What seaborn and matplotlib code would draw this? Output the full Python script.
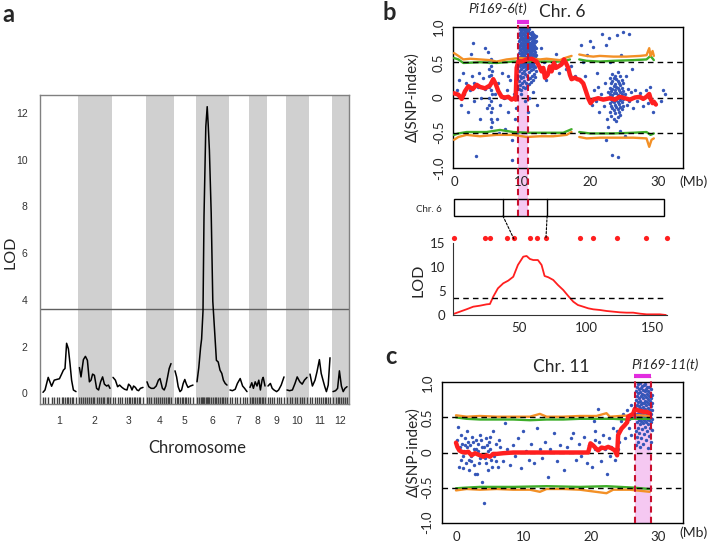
import numpy as np
import pandas as pd
import matplotlib
matplotlib.use("Agg")
import matplotlib.pyplot as plt
import seaborn as sns
from matplotlib.patches import Rectangle, ConnectionPatch
from matplotlib.transforms import blended_transform_factory

# ================= data =================
# --- panel a: genome-wide LOD scan, positions in cM inside each chromosome ---
chr_names = [str(i) for i in range(1, 13)]
chr_len = [165, 155, 155, 125, 95, 150, 85, 75, 80, 100, 100, 70]
chr_pos = [
    [0, 10, 26, 43, 56, 68, 82, 93, 102, 110, 118, 127, 135, 143, 152, 165],
    [2, 10, 22, 32, 42, 52, 60, 68, 77, 88, 98, 108, 118, 127, 138, 147, 155],
    [0, 12, 23, 33, 45, 58, 70, 78, 87, 95, 103, 112, 120, 128, 137, 150],
    [0, 9, 21, 34, 46, 57, 65, 77, 86, 94, 103, 111, 120],
    [0, 8, 16, 25, 33, 41, 49, 57, 65, 77, 90],
    [0, 9, 18, 23, 30, 35, 44, 51, 56, 62, 71, 79, 88, 97, 106, 115, 124, 132, 141, 150],
    [0, 12, 26, 37, 51, 63, 73, 85],
    [0, 9, 17, 26, 35, 44, 52, 61, 66, 75],
    [0, 12, 21, 30, 43, 53, 66, 80],
    [0, 13, 27, 40, 51, 64, 76, 87, 100],
    [0, 12, 25, 35, 47, 56, 65, 74, 82, 91, 100],
    [0, 13, 23, 32, 42, 51, 60, 70],
]
chr_lod = [
    [0.04, 0.14, 0.68, 0.30, 0.56, 0.59, 0.62, 0.82, 0.99, 1.06, 2.14, 1.90, 1.27, 0.56, 0.14, 0.07],
    [1.10, 0.70, 1.44, 1.58, 1.41, 0.49, 0.56, 0.82, 0.77, 0.21, 0.14, 0.49, 0.70, 0.39, 0.31, 0.35, 0.21],
    [0.68, 0.56, 0.28, 0.35, 0.25, 0.17, 0.14, 0.39, 0.31, 0.14, 0.31, 0.25, 0.14, 0.11, 0.21, 0.25],
    [0.49, 0.28, 0.21, 0.21, 0.31, 0.56, 0.63, 0.21, 0.14, 0.31, 0.70, 1.06, 1.27],
    [0.96, 0.70, 0.28, 0.07, 0.14, 0.42, 0.59, 0.39, 0.25, 0.31, 0.35],
    [0.49, 1.10, 1.97, 2.32, 3.52, 7.56, 11.41, 12.27, 11.50, 10.40, 7.70, 3.94, 2.68, 1.41, 1.34, 0.99, 0.85, 0.56, 0.42, 0.35],
    [0.14, 0.11, 0.17, 0.42, 0.63, 0.31, 0.21, 0.07],
    [0.25, 0.45, 0.21, 0.49, 0.31, 0.56, 0.14, 0.59, 0.68, 0.31],
    [0.31, 0.42, 0.21, 0.14, 0.07, 0.14, 0.35, 0.70],
    [0.14, 0.11, 0.14, 0.42, 0.70, 0.49, 0.39, 0.56, 0.68],
    [0.82, 0.31, 0.56, 0.92, 1.44, 0.85, 0.56, 0.28, 0.07, 0.35, 1.52],
    [0.07, 0.11, 0.21, 0.96, 0.31, 0.07, 0.21, 0.28],
]
lod_threshold_a = 3.6

# --- panel b: chr 6 delta SNP-index (Mb) ---
b_red_x = [0, 0.64, 1.13, 1.62, 2.11, 2.75, 3.33, 3.82, 4.56, 5.29, 5.78, 6.18, 6.52, 7.01, 7.5, 7.99,
           8.48, 8.87, 9.07, 9.22, 9.46, 9.95, 10.69, 11.42, 12.16, 12.55, 12.89, 13.14, 13.38, 13.77,
           14.12, 14.36, 14.71, 15.0, 15.34, 15.83, 16.18, 16.47, 16.81, 17.06, 17.3, 17.79, 18.14,
           18.53, 19.02, 19.41, 19.75, 20.1, 20.49, 21.23, 21.96, 22.94, 23.68, 24.41, 25.15, 25.88,
           26.62, 27.35, 27.84, 28.33, 28.73, 28.97, 29.22, 29.41, 29.71]
b_red_y = [0.06, 0.04, -0.02, 0.09, 0.16, 0.12, 0.18, 0.15, 0.13, 0.17, 0.26, 0.18, 0.09, 0.01, 0.0, 0.01,
           -0.03, -0.01, -0.03, 0.42, 0.51, 0.51, 0.54, 0.55, 0.51, 0.44, 0.37, 0.42, 0.28, 0.32,
           0.44, 0.37, 0.49, 0.42, 0.44, 0.47, 0.54, 0.49, 0.42, 0.32, 0.26, 0.28, 0.26,
           0.25, 0.2, 0.09, -0.01, -0.08, -0.03, -0.01, -0.03, -0.01, -0.03, 0.01, -0.01, -0.03,
           0.0, 0.01, -0.02, 0.01, 0.05, -0.03, -0.08, -0.06, -0.1]
b_orange_up_x = [0, 0.64, 1.37, 2.35, 3.82, 5.29, 6.27, 7.75, 8.73, 9.71, 10.69, 11.67, 12.65, 13.63, 14.61,
                 15.59, 16.32, 17.3, None, 18.43, 19.51, 20.49, 21.47, 23.43, 25.39, 27.35, 28.33, 28.73,
                 28.92, 29.22, 29.41]
b_orange_up_y = [0.63, 0.59, 0.54, 0.55, 0.54, 0.53, 0.51, 0.54, 0.55, 0.56, 0.55, 0.55, 0.54, 0.55, 0.54,
                 0.53, 0.56, 0.59, None, 0.61, 0.59, 0.58, 0.59, 0.58, 0.58, 0.59, 0.6, 0.7,
                 0.59, 0.66, 0.59]
b_green_up_x = [0, 0.64, 1.37, 3.82, 6.27, 8.73, 11.18, 13.63, 16.08, 17.06, None, 18.43, 19.51, 21.47,
                23.43, 26.37, 28.33, 28.92, 29.41]
b_green_up_y = [0.56, 0.54, 0.49, 0.5, 0.49, 0.51, 0.51, 0.51, 0.51, 0.54, None, 0.54, 0.52, 0.51,
                0.52, 0.53, 0.54, 0.59, 0.53]
b_orange_lo_x = [0, 0.64, 1.86, 3.82, 6.27, 8.73, 10.69, 12.65, 14.61, 16.57, 17.3, None, 18.43, 19.51,
                 21.47, 23.43, 26.37, 28.33, 28.73, 29.07, 29.41]
b_orange_lo_y = [-0.6, -0.56, -0.53, -0.55, -0.53, -0.53, -0.56, -0.55, -0.55, -0.53, -0.49, None, -0.56,
                 -0.58, -0.57, -0.57, -0.57, -0.58, -0.7, -0.6, -0.58]
b_green_lo_x = [0, 0.64, 1.86, 4.8, 6.76, 8.73, 11.18, 13.63, 16.08, 17.3, None, 18.43, 20.0, 23.43,
                26.37, 28.33, 28.92, 29.41]
b_green_lo_y = [-0.53, -0.51, -0.49, -0.49, -0.46, -0.49, -0.5, -0.5, -0.5, -0.45, None, -0.49, -0.51,
                -0.51, -0.5, -0.49, -0.53, -0.51]

# SNPs outside the dense columns (Mb, delta)
b_snp_scattered = [
    (0.5, 0.1), (0.8, 0.25), (1.0, -0.1), (1.3, 0.35), (1.5, 0.05), (1.8, 0.2), (2.0, -0.2), (2.3, 0.1),
    (2.5, 0.62), (2.8, 0.78), (2.6, 0.3), (2.9, -0.05), (3.0, 0.2), (3.3, -0.83), (3.5, 0.15), (3.7, 0.35),
    (3.8, -0.3), (4.0, 0.0), (4.2, 0.28), (4.5, 0.7), (4.6, 0.12), (4.8, -0.15), (5.0, 0.65),
    (6.0, 0.05), (6.3, -0.3), (6.5, 0.2), (6.6, -0.5), (6.8, -0.1), (7.0, 0.35), (7.3, 0.0), (7.5, -0.45),
    (7.8, 0.1), (7.9, 0.3), (8.0, -0.2), (8.3, 0.25), (8.5, -0.88), (8.6, -0.6), (8.8, 0.05), (9.0, -0.3),
    (9.2, 0.15), (9.1, -0.15), (9.3, -0.5), (9.8, 0.05), (10.4, -0.05), (10.9, -0.2), (11.0, 0.0),
    (11.6, 0.08), (12.2, -0.1), (12.8, 0.7), (13.2, 0.5), (13.5, 0.25), (14.0, 0.45), (15.0, 0.62),
    (15.5, 0.35), (16.0, 0.5), (16.5, 0.4), (17.2, 0.45), (17.8, 0.3), (18.7, 0.75), (19.0, 0.5),
    (19.3, 0.3), (19.6, 0.6), (20.0, 0.8), (20.5, 0.72), (21.8, 0.9), (22.3, 0.75), (22.8, 0.85),
    (24.0, 0.88), (24.8, 0.93), (25.7, 0.9), (30.4, -0.05), (30.8, 0.1), (31.0, 0.05),
    (20.3, -0.1), (20.6, 0.1), (20.9, -0.05), (21.2, 0.15), (21.4, -0.2), (21.7, 0.05), (22.0, -0.12),
    (22.2, 0.2), (22.5, -0.3), (22.7, 0.08), (25.2, 0.05), (25.4, -0.1), (25.6, 0.12), (25.8, -0.05),
    (26.0, 0.08), (26.3, -0.15), (26.6, 0.1), (27.0, -0.05), (27.4, 0.06), (27.8, -0.12), (28.2, 0.1),
    (28.6, -0.08), (28.9, 0.15), (29.3, -0.2), (23.3, -0.82), (24.1, -0.85), (22.4, -0.6), (25.1, -0.55),
    (23.0, 0.5), (24.6, 0.6), (21.0, 0.35), (26.2, 0.4), (25.3, 0.3), (22.6, -0.42), (24.4, -0.48),
]
# dense SNP columns: x position -> delta values
b_col_x = [5.2, 5.4, 5.6,
           9.5, 9.65, 9.8, 9.95, 10.1, 10.25, 10.4, 10.55, 10.7, 10.85, 11.0, 11.15, 11.3, 11.45, 11.6,
           11.75, 11.9, 12.1,
           22.9, 23.1, 23.3, 23.5, 23.7, 23.9, 24.1, 24.3, 24.5, 24.7, 24.9]
b_col_y = [
    [-0.1, 0.0, 0.15, 0.3, 0.4, 0.5],
    [-0.42, -0.3, -0.2, -0.05, 0.1, 0.2, 0.32, 0.45, 0.55],
    [-0.35, -0.15, 0.05, 0.25, 0.38, 0.5],
    [0.12, 0.24, 0.38, 0.47, 0.55, 0.63, 0.71, 0.8, 0.88],
    [0.18, 0.31, 0.44, 0.5, 0.58, 0.67, 0.74, 0.83, 0.91, 0.97],
    [0.1, 0.27, 0.41, 0.48, 0.53, 0.61, 0.69, 0.77, 0.86, 0.94, 0.99],
    [0.21, 0.35, 0.46, 0.52, 0.59, 0.65, 0.73, 0.81, 0.89, 0.96],
    [0.15, 0.29, 0.43, 0.49, 0.56, 0.62, 0.7, 0.78, 0.84, 0.92, 1.0],
    [0.24, 0.38, 0.47, 0.54, 0.6, 0.68, 0.75, 0.82, 0.9, 0.97],
    [0.13, 0.33, 0.45, 0.51, 0.57, 0.64, 0.72, 0.8, 0.87, 0.95],
    [0.2, 0.4, 0.48, 0.55, 0.63, 0.69, 0.77, 0.85, 0.93, 0.98],
    [0.16, 0.3, 0.44, 0.52, 0.58, 0.66, 0.74, 0.81, 0.88, 0.96],
    [0.26, 0.42, 0.5, 0.56, 0.62, 0.7, 0.79, 0.86, 0.94],
    [0.19, 0.36, 0.46, 0.53, 0.6, 0.67, 0.75, 0.83, 0.91, 0.97],
    [0.28, 0.43, 0.49, 0.57, 0.64, 0.71, 0.78, 0.85, 0.92],
    [0.22, 0.39, 0.47, 0.54, 0.61, 0.69, 0.76, 0.84, 0.9],
    [0.31, 0.44, 0.51, 0.58, 0.66, 0.73, 0.8, 0.87, 0.93],
    [0.25, 0.41, 0.48, 0.55, 0.62, 0.7, 0.78, 0.85, 0.9],
    [0.34, 0.45, 0.52, 0.6, 0.67, 0.74, 0.82, 0.88],
    [0.29, 0.43, 0.5, 0.57, 0.64, 0.72, 0.79, 0.86],
    [0.38, 0.5, 0.6, 0.7, 0.8, 0.87],
    [-0.2, -0.08, 0.05, 0.14, 0.27],
    [-0.26, -0.12, -0.02, 0.09, 0.2],
    [-0.15, -0.05, 0.03, 0.12, 0.24, 0.33],
    [-0.3, -0.18, -0.07, 0.06, 0.16, 0.28],
    [-0.22, -0.1, 0.0, 0.1, 0.19, 0.31],
    [-0.33, -0.14, -0.04, 0.07, 0.15, 0.26],
    [-0.27, -0.16, -0.06, 0.04, 0.13, 0.23, 0.36],
    [-0.21, -0.09, 0.02, 0.11, 0.21],
    [-0.25, -0.13, -0.03, 0.08, 0.18, 0.3],
    [-0.17, -0.06, 0.05, 0.14, 0.25],
    [-0.12, -0.02, 0.09, 0.2],
]
b_region = (9.36, 10.93)
b_chr_len_mb = 30.9
b_zoom_mb = [7.2, 13.7]          # bar ticks linked to markers
b_zoom_cm = [46, 70]

# --- panel b (middle): chr 6 interval mapping ---
lod6_cm = [0.5, 5.5, 10.5, 15.5, 20.5, 25.5, 28, 30.5, 34, 38, 41.75, 45.5, 49, 53, 55.5, 58, 60.5, 64,
           66.75, 69, 71.75, 75.5, 79, 83, 86.75, 90.5, 94, 98, 101.75, 105.5, 110.5, 115.5, 120.5,
           125.5, 130.5, 135.5, 140.5, 145.5, 150.5, 155.5, 160]
lod6 = [0.2, 0.7, 1.2, 1.74, 1.95, 2.23, 2.3, 3.84, 5.58, 6.63, 7.19, 8.0, 10.47, 12.2, 12.35, 11.72, 11.5,
        11.5, 10.47, 8.16, 7.9, 7.33, 6.28, 5.23, 3.98, 2.79, 2.09, 1.74, 1.4, 1.19, 1.05, 0.84, 0.7,
        0.56, 0.49, 0.49, 0.28, 0.14, 0.14, 0.14, 0.0]
marker_cm = [1, 24.3, 28, 41, 46, 58, 63.5, 70, 95.5, 105, 123.5, 145, 161]
lod_threshold_b = 3.5

# --- panel c: chr 11 delta SNP-index ---
c_red_x = [0, 0.2, 0.49, 0.84, 1.33, 1.83, 2.32, 2.82, 3.56, 4.05, 4.55, 5.04, 5.53, 6.03, 7.02, 8.5,
           10.97, 13.44, 15.91, 18.38, 19.61, 19.96, 20.36, 20.75, 21.1, 21.59, 22.08, 22.58, 23.07,
           23.57, 23.91, 24.06, 24.56, 25.05, 25.4, 25.54, 25.89, 26.28, 26.53, 27.03, 27.77, 28.26, 28.75]
c_red_y = [0.14, 0.08, 0.03, 0.01, 0.0, 0.01, -0.04, -0.01, -0.04, -0.06, -0.04, -0.06, -0.02, -0.02,
           -0.01, 0.0, 0.0, 0.0, 0.0, 0.0, 0.0, 0.13, 0.1, 0.06, 0.03, 0.07, 0.06, 0.08, 0.06, 0.03,
           -0.04, 0.25, 0.34, 0.39, 0.43, 0.51, 0.53, 0.55, 0.62, 0.6, 0.58, 0.58, 0.56]
c_orange_up_x = [0, 1.58, 3.56, 6.03, 8.5, 10.97, 12.45, 13.44, 15.91, 18.38, 20.85, 22.33, 22.83, 24.31,
                 26.28, 27.27, 28.75]
c_orange_up_y = [0.53, 0.51, 0.52, 0.51, 0.51, 0.51, 0.55, 0.51, 0.51, 0.52, 0.52, 0.56, 0.51, 0.52,
                 0.53, 0.53, 0.52]
c_green_up_x = [0, 1.58, 3.56, 6.03, 8.5, 10.97, 13.44, 15.91, 18.38, 20.85, 23.32, 25.3, 26.28, 28.75]
c_green_up_y = [0.5, 0.48, 0.47, 0.47, 0.47, 0.46, 0.47, 0.47, 0.48, 0.48, 0.48, 0.47, 0.48, 0.48]
c_orange_lo_x = [0, 1.58, 3.56, 6.03, 8.5, 10.97, 12.45, 13.44, 15.91, 18.38, 22.33, 23.32, 25.79, 26.78,
                 28.75]
c_orange_lo_y = [-0.54, -0.52, -0.53, -0.52, -0.53, -0.53, -0.56, -0.52, -0.52, -0.53, -0.58, -0.53,
                 -0.53, -0.54, -0.56]
c_green_lo_x = [0, 1.58, 3.56, 8.5, 13.44, 18.38, 22.33, 24.31, 26.28, 28.75]
c_green_lo_y = [-0.51, -0.5, -0.49, -0.49, -0.48, -0.49, -0.48, -0.49, -0.5, -0.52]

c_snp_scattered = [
    (0.2, 0.18), (0.3, 0.36), (0.5, 0.05), (0.7, -0.1), (0.9, 0.12), (1.1, -0.05), (1.3, 0.2), (1.5, -0.15),
    (1.7, 0.08), (1.9, -0.25), (2.1, 0.1), (2.3, -0.05), (2.5, 0.15), (2.7, -0.18), (2.9, 0.05), (3.1, -0.3),
    (3.3, 0.12), (3.5, -0.08), (3.7, 0.18), (3.9, -0.42), (4.1, -0.72), (4.2, 0.08), (4.4, -0.15),
    (4.6, 0.1), (4.8, -0.25), (5.0, 0.05), (5.2, -0.1), (5.5, 0.3), (5.7, -0.05), (6.0, 0.12), (6.3, -0.2),
    (6.6, 0.08), (7.0, -0.12), (7.3, 0.42), (7.6, 0.05), (8.0, -0.18), (8.4, 0.1), (8.8, -0.05), (9.2, 0.2),
    (9.6, -0.22), (10.0, 0.3), (10.4, 0.02), (10.8, -0.1), (11.2, 0.12), (11.6, -0.15), (12.0, 0.35),
    (12.4, 0.05), (12.8, -0.08), (13.2, 0.15), (13.6, -0.35), (14.0, 0.05), (14.5, 0.28), (15.0, -0.12),
    (15.5, 0.1), (16.0, -0.25), (16.5, 0.08), (17.0, 0.2), (17.3, 0.28), (17.8, -0.1), (18.2, 0.12),
    (18.6, -0.05), (19.0, 0.22), (19.4, -0.15), (19.8, 0.1), (20.2, -0.2), (20.5, 0.45), (20.6, 0.3),
    (20.65, 0.18), (20.7, 0.05), (21.0, 0.62), (21.2, 0.15), (21.5, -0.12), (21.8, 0.25), (22.1, 0.05),
    (22.4, -0.3), (22.7, 0.2), (23.0, 0.08), (23.3, 0.35), (23.6, -0.1), (23.9, 0.3), (24.2, 0.15),
    (24.5, 0.45), (24.8, 0.55), (25.1, 0.2), (25.4, 0.6), (25.7, 0.35), (26.0, 0.68), (26.3, 0.5),
    (26.5, 0.65), (0.4, -0.2), (0.8, 0.25), (1.2, 0.02), (1.6, 0.3), (2.0, -0.1), (2.4, 0.22), (2.8, -0.3),
    (3.2, 0.02), (3.6, 0.25), (4.0, -0.05), (4.5, 0.2), (4.9, 0.15), (5.4, -0.2), (0.6, 0.08),
    (1.0, -0.22), (1.4, 0.1), (1.8, 0.15), (2.2, -0.12), (2.6, 0.05), (3.0, 0.18), (3.4, -0.15),
    (3.8, 0.08), (4.3, -0.08), (4.7, 0.02), (5.1, 0.22), (5.9, -0.12), (6.4, 0.18), (25.9, 0.25),
    (25.6, 0.48), (24.0, 0.05), (22.9, -0.05),
]
c_col_x = [26.7, 26.85, 27.0, 27.15, 27.3, 27.45, 27.6, 27.75, 27.9, 28.05, 28.2, 28.35, 28.5, 28.65,
           28.8, 28.95, 29.1]
c_col_y = [
    [0.1, 0.3, 0.5, 0.62, 0.75, 0.88],
    [0.22, 0.44, 0.55, 0.68, 0.8, 0.93],
    [0.15, 0.35, 0.5, 0.6, 0.72, 0.85, 0.97],
    [0.28, 0.47, 0.57, 0.66, 0.78, 0.9],
    [0.08, 0.4, 0.52, 0.63, 0.74, 0.86, 0.99],
    [0.2, 0.45, 0.55, 0.69, 0.81, 0.92],
    [0.33, 0.49, 0.6, 0.71, 0.83, 0.95],
    [0.12, 0.42, 0.53, 0.65, 0.77, 0.89],
    [0.26, 0.47, 0.58, 0.7, 0.82, 0.96],
    [0.37, 0.51, 0.62, 0.74, 0.87, 0.98],
    [0.18, 0.44, 0.56, 0.67, 0.79, 0.91],
    [0.3, 0.48, 0.59, 0.72, 0.84, 0.94],
    [0.06, 0.41, 0.53, 0.64, 0.76, 0.88],
    [0.24, 0.46, 0.57, 0.69, 0.8, 0.93],
    [0.35, 0.5, 0.61, 0.73, 0.85],
    [0.15, 0.43, 0.55, 0.66, 0.78, 0.9],
    [0.32, 0.48, 0.6, 0.7, 0.82],
]
c_region = (26.63, 28.9)

delta_ticks = [-1.0, -0.5, 0, 0.5, 1.0]
delta_labels = ["-1.0", "-0.5", "0", "0.5", "1.0"]

# ================= style =================
sns.set_style("white")
plt.rcParams["font.family"] = ["Lato", "DejaVu Sans"]

BLUE = "#3556b8"
ORANGE = "#f39026"
GREEN = "#3fae2a"
RED = "#ff1f1f"
PINK = "#f5c8f2"
DRED = "#c8102e"
MAGENTA = "#e22de0"

W, H = 708, 544
fig = plt.figure(figsize=(W / 100, H / 100), dpi=100)


def box(l, t, r, b):
    """pixel box (left, top, right, bottom) -> figure fraction rect"""
    return [l / W, 1 - b / H, (r - l) / W, (b - t) / H]


def snp_frame(scattered, col_x, col_y):
    xs = [p[0] for p in scattered]
    ys = [p[1] for p in scattered]
    for x, yy in zip(col_x, col_y):
        xs += [x] * len(yy)
        ys += yy
    return pd.DataFrame({"mb": xs, "delta": ys})


def arr(v):
    return np.array([np.nan if a is None else a for a in v], dtype=float)


def delta_panel(ax, snps, red_x, red_y, ou, gu, ol, gl, xlim):
    ax.patch.set_alpha(0)
    sns.scatterplot(data=snps, x="mb", y="delta", color=BLUE, s=6, linewidth=0, ax=ax, zorder=2)
    for (lx, ly), col in [(gu, GREEN), (gl, GREEN), (ou, ORANGE), (ol, ORANGE)]:
        ax.plot(arr(lx), arr(ly), color=col, lw=1.7, zorder=3)
    for yv in (-0.5, 0, 0.5):
        ax.axhline(yv, color="black", lw=1, ls=(0, (4, 3)), zorder=4)
    sns.lineplot(x=red_x, y=red_y, color=RED, lw=3.2, ax=ax, zorder=6, estimator=None, sort=False)
    ax.set_xlim(*xlim)
    ax.set_ylim(-1.0, 1.0)
    ax.set_xticks([0, 10, 20, 30])
    ax.set_xticklabels(["0", "10", "20", "30"], fontsize=9.5)
    ax.set_yticks(delta_ticks)
    ax.set_yticklabels(delta_labels, rotation=90, va="center", fontsize=9.5)
    ax.tick_params(length=4, width=0.8, color="black", pad=2)
    ax.set_xlabel("")
    ax.set_ylabel("")
    for s in ax.spines.values():
        s.set_color("black")
        s.set_linewidth(1)


# ================= panel a =================
ax_a = fig.add_axes(box(40, 95, 349, 404))
gap = 15
starts = np.concatenate([[0], np.cumsum(np.array(chr_len[:-1]) + gap)])
rows = []
for i, (pos, lod) in enumerate(zip(chr_pos, chr_lod)):
    for p, v in zip(pos, lod):
        rows.append((chr_names[i], starts[i] + p, v))
df_a = pd.DataFrame(rows, columns=["chr", "x", "lod"])

for i in range(1, 12, 2):
    ax_a.axvspan(starts[i] - gap / 2, starts[i] + chr_len[i] + gap / 2, color="#d0d0d0", lw=0, zorder=0)
sns.lineplot(data=df_a, x="x", y="lod", units="chr", estimator=None, sort=False,
             color="black", lw=1.1, ax=ax_a, zorder=3)
ax_a.axhline(lod_threshold_a, color="#606060", lw=1, zorder=2)
sns.rugplot(x=df_a["x"], height=0.022, color="#404040", lw=0.6, ax=ax_a)
ax_a.set_xlim(-15, 1530)
ax_a.set_ylim(-0.46, 12.77)
ax_a.set_xticks(starts + np.array(chr_len) / 2)
ax_a.set_xticklabels(chr_names, fontsize=7.5, color="#333333", family="Liberation Sans")
ax_a.set_yticks(range(0, 13, 2))
ax_a.set_yticklabels([str(v) for v in range(0, 13, 2)], fontsize=7.5, color="#333333",
                     family="Liberation Sans")
ax_a.tick_params(length=4, width=0.8, color="#666666", pad=5)
ax_a.set_xlabel("")
ax_a.set_ylabel("")
for s in ax_a.spines.values():
    s.set_color("#808080")
    s.set_linewidth(1)
fig.text(197 / W, 1 - 448 / H, "Chromosome", ha="center", va="center", fontsize=12)
fig.text(10 / W, 1 - 252 / H, "LOD", ha="center", va="center", rotation=90, fontsize=11.5)
fig.text(2 / W, 1 - 15 / H, "a", ha="left", va="center", fontsize=17, fontweight="bold")

# ================= panel b =================
b_xlim = (-0.15, 33.7)

# pink interval behind the SNP panel, the gap and the bar
ax_pk = fig.add_axes(box(453, 25, 683, 216))
ax_pk.set_zorder(-1)
ax_pk.set_xlim(*b_xlim)
ax_pk.set_ylim(0, 1)
ax_pk.axis("off")
ax_pk.axvspan(*b_region, color=PINK, lw=0)

ax_b = fig.add_axes(box(453, 27, 683, 168))
delta_panel(ax_b, snp_frame(b_snp_scattered, b_col_x, b_col_y), b_red_x, b_red_y,
            (b_orange_up_x, b_orange_up_y), (b_green_up_x, b_green_up_y),
            (b_orange_lo_x, b_orange_lo_y), (b_green_lo_x, b_green_lo_y), b_xlim)

# chromosome bar
ax_bar = fig.add_axes(box(453, 199, 683, 216))
ax_bar.set_xlim(*b_xlim)
ax_bar.set_ylim(0, 1)
ax_bar.axis("off")
ax_bar.add_patch(Rectangle((0, 0), b_chr_len_mb, 1, fill=False, ec="black", lw=1, clip_on=False))
for m in b_zoom_mb:
    ax_bar.plot([m, m], [0, 1], color="black", lw=1, clip_on=False)

# dashed interval borders on top
ax_dl = fig.add_axes(box(453, 25, 683, 216))
ax_dl.set_xlim(*b_xlim)
ax_dl.set_ylim(0, 1)
ax_dl.axis("off")
for e in b_region:
    ax_dl.axvline(e, color=DRED, lw=1.5, ls=(0, (3, 2)))
tr_b = blended_transform_factory(ax_b.transData, ax_b.transAxes)
ax_b.plot([b_region[0] - 0.1, b_region[1] + 0.1], [1.038, 1.038], transform=tr_b, color=MAGENTA,
          lw=3, clip_on=False, solid_capstyle="butt")

# LOD curve of chr 6
ax_l = fig.add_axes(box(452.6, 243.3, 667.2, 315))
sns.lineplot(x=lod6_cm, y=lod6, color=RED, lw=1.3, ax=ax_l, estimator=None, sort=False)
ax_l.plot([0, 161], [lod_threshold_b, lod_threshold_b], color="black", lw=1, ls=(0, (4, 3)))
sns.scatterplot(x=marker_cm, y=[16.1] * len(marker_cm), color=RED, s=14, linewidth=0, ax=ax_l,
                clip_on=False)
ax_l.set_xlim(0, 161)
ax_l.set_ylim(0, 15)
ax_l.set_xticks([50, 100, 150])
ax_l.set_xticklabels(["50", "100", "150"], fontsize=9.5)
ax_l.set_yticks([0, 5, 10, 15])
ax_l.set_yticklabels(["0", "5", "10", "15"], fontsize=9.5)
ax_l.tick_params(length=3, width=0.8, color="black", pad=2)
sns.despine(ax=ax_l)
for s in ("left", "bottom"):
    ax_l.spines[s].set_color("#333333")
for mb, cm in zip(b_zoom_mb, b_zoom_cm):
    con = ConnectionPatch(xyA=(mb, 0), coordsA=ax_bar.transData, xyB=(cm, 15.9), coordsB=ax_l.transData,
                          color="black", lw=0.8, ls=(0, (2, 1.5)))
    fig.add_artist(con)

fig.text(383 / W, 1 - 12 / H, "b", ha="left", va="center", fontsize=17, fontweight="bold")
fig.text(498 / W, 1 - 9 / H, "Pi169-6(t)", ha="center", va="center", fontsize=10, style="italic")
fig.text(562 / W, 1 - 12 / H, "Chr. 6", ha="center", va="center", fontsize=12.5)
fig.text(693 / W, 1 - 182 / H, "(Mb)", ha="center", va="center", fontsize=10)
fig.text(412 / W, 1 - 97 / H, "Δ(SNP-index)", ha="center", va="center", rotation=90, fontsize=11)
fig.text(429 / W, 1 - 209 / H, "Chr. 6", ha="center", va="center", fontsize=7)
fig.text(418 / W, 1 - 280 / H, "LOD", ha="center", va="center", rotation=90, fontsize=11.5)

# ================= panel c =================
c_xlim = (-2.12, 33.64)
ax_c = fig.add_axes(box(441.7, 382.3, 682.7, 522.7))
delta_panel(ax_c, snp_frame(c_snp_scattered, c_col_x, c_col_y), c_red_x, c_red_y,
            (c_orange_up_x, c_orange_up_y), (c_green_up_x, c_green_up_y),
            (c_orange_lo_x, c_orange_lo_y), (c_green_lo_x, c_green_lo_y), c_xlim)
ax_c.axvspan(*c_region, color=PINK, lw=0, zorder=0.5)
tr_c = blended_transform_factory(ax_c.transData, ax_c.transAxes)
for e in c_region:
    ax_c.plot([e, e], [0, 1.038], transform=tr_c, color=DRED, lw=1.5, ls=(0, (3, 2)),
              clip_on=False, zorder=7)
ax_c.plot([c_region[0] - 0.2, c_region[1] + 0.1], [1.047, 1.047], transform=tr_c, color=MAGENTA,
          lw=3, clip_on=False, solid_capstyle="butt")

fig.text(385 / W, 1 - 357 / H, "c", ha="left", va="center", fontsize=17, fontweight="bold")
fig.text(561 / W, 1 - 367 / H, "Chr. 11", ha="center", va="center", fontsize=12.5)
fig.text(665 / W, 1 - 365 / H, "Pi169-11(t)", ha="center", va="center", fontsize=10, style="italic")
fig.text(693 / W, 1 - 533 / H, "(Mb)", ha="center", va="center", fontsize=10)
fig.text(413 / W, 1 - 452 / H, "Δ(SNP-index)", ha="center", va="center", rotation=90, fontsize=11)

fig.savefig("out.png", dpi=100)
